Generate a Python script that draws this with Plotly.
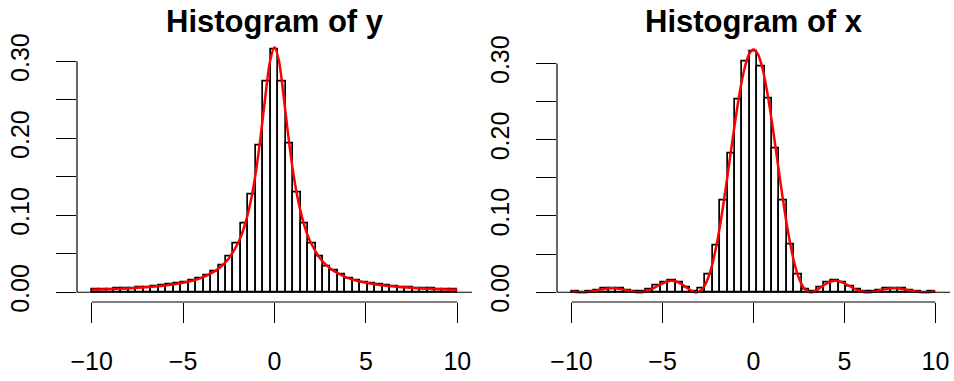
import numpy as np
import plotly.graph_objects as go

# ---- data ----
BREAK_MIN, BREAK_MAX, N_BINS = -10.0, 10.0, 49

dens_y = [0.0034, 0.0036, 0.0040, 0.0042, 0.0047, 0.0051, 0.0058, 0.0066, 0.0072, 0.0084,
          0.0094, 0.0110, 0.0128, 0.0149, 0.0172, 0.0216, 0.0273, 0.0350, 0.0463, 0.0627,
          0.0896, 0.1264, 0.1910, 0.2735, 0.3156, 0.2735, 0.1935, 0.1300, 0.0896, 0.0627,
          0.0463, 0.0340, 0.0280, 0.0225, 0.0178, 0.0151, 0.0126, 0.0108, 0.0096, 0.0082,
          0.0074, 0.0064, 0.0058, 0.0052, 0.0046, 0.0043, 0.0038, 0.0036, 0.0033]

dens_x = [0.0004, 0.0002, 0.0009, 0.0026, 0.0044, 0.0053, 0.0047, 0.0026, 0.0006, 0.0005,
          0.0032, 0.0082, 0.0133, 0.0152, 0.0122, 0.0063, 0.0012, 0.0045, 0.0227, 0.0612,
          0.1206, 0.1822, 0.2521, 0.3023, 0.3163, 0.2966, 0.2538, 0.1879, 0.1197, 0.0620,
          0.0227, 0.0038, 0.0010, 0.0058, 0.0128, 0.0148, 0.0130, 0.0077, 0.0030, 0.0004,
          0.0005, 0.0025, 0.0046, 0.0051, 0.0043, 0.0024, 0.0008, 0.0001, 0.0005]

curve_y_pos = [-10, -9, -8, -7, -6, -5, -4.5, -4, -3.5, -3, -2.5, -2, -1.75, -1.5, -1.25, -1,
               -0.75, -0.5, -0.25, 0, 0.25, 0.5, 0.75, 1, 1.25, 1.5, 1.75, 2, 2.5, 3, 3.5,
               4, 4.5, 5, 6, 7, 8, 9, 10]
curve_y_val = [0.00315, 0.00389, 0.00490, 0.00637, 0.00860, 0.01224, 0.01495, 0.01872,
               0.02411, 0.03183, 0.04390, 0.06366, 0.07795, 0.09794, 0.12420, 0.15915,
               0.20372, 0.25465, 0.29958, 0.31831, 0.29958, 0.25465, 0.20372, 0.15915,
               0.12420, 0.09794, 0.07795, 0.06366, 0.04390, 0.03183, 0.02411, 0.01872,
               0.01495, 0.01224, 0.00860, 0.00637, 0.00490, 0.00389, 0.00315]

curve_x_pos = [-10, -9.75, -9.5, -9.4248, -9.25, -9, -8.75, -8.5, -8.25, -8, -7.75, -7.5,
               -7.25, -7, -6.75, -6.5, -6.2832, -6, -5.75, -5.5, -5.25, -5, -4.75, -4.5,
               -4.25, -4, -3.75, -3.5, -3.25, -3.1416, -3, -2.75, -2.5, -2.25, -2, -1.75,
               -1.5, -1.25, -1, -0.75, -0.5, -0.25, 0,
               0.25, 0.5, 0.75, 1, 1.25, 1.5, 1.75, 2, 2.25, 2.5, 2.75, 3, 3.1416, 3.25,
               3.5, 3.75, 4, 4.25, 4.5, 4.75, 5, 5.25, 5.5, 5.75, 6, 6.2832, 6.5, 6.75, 7,
               7.25, 7.5, 7.75, 8, 8.25, 8.5, 8.75, 9, 9.25, 9.4248, 9.5, 9.75, 10]
curve_x_val = [0.00094, 0.00034, 0.00002, 0.0, 0.00011, 0.00067, 0.00162, 0.00281, 0.00398,
               0.00487, 0.00524, 0.00498, 0.00410, 0.00280, 0.00142, 0.00035, 0.0, 0.00069,
               0.00250, 0.00524, 0.00852, 0.01171, 0.01409, 0.01502, 0.01412, 0.01140,
               0.00740, 0.00320, 0.00035, 0.0, 0.00070, 0.00613, 0.01824, 0.03807, 0.06580,
               0.10064, 0.14076, 0.18347, 0.22539, 0.26292, 0.29265, 0.31173, 0.31831,
               0.31173, 0.29265, 0.26292, 0.22539, 0.18347, 0.14076, 0.10064, 0.06580,
               0.03807, 0.01824, 0.00613, 0.00070, 0.0, 0.00035, 0.00320, 0.00740, 0.01140,
               0.01412, 0.01502, 0.01409, 0.01171, 0.00852, 0.00524, 0.00250, 0.00069, 0.0,
               0.00035, 0.00142, 0.00280, 0.00410, 0.00498, 0.00524, 0.00487, 0.00398,
               0.00281, 0.00162, 0.00067, 0.00011, 0.0, 0.00002, 0.00034, 0.00094]

titles = ["Histogram of y", "Histogram of x"]
x_ticks = [-10, -5, 0, 5, 10]
y_ticks = [0, 0.05, 0.10, 0.15, 0.20, 0.25, 0.30]
y_ticktext = ["0.00", "", "0.10", "", "0.20", "", "0.30"]

# ---- figure ----
breaks = np.linspace(BREAK_MIN, BREAK_MAX, N_BINS + 1)
centers = (breaks[:-1] + breaks[1:]) / 2
bw = breaks[1] - breaks[0]

W, H = 954, 381
FONT = "Liberation Sans, Arial, Helvetica, sans-serif"
fig = go.Figure()

panels = [
    dict(dens=dens_y, cx=curve_y_pos, cy=curve_y_val, xa="x", ya="y",
         dom=[77 / W, 472 / W], yr=[-0.0127, 0.331]),
    dict(dens=dens_x, cx=curve_x_pos, cy=curve_x_val, xa="x2", ya="y2",
         dom=[557 / W, 950 / W], yr=[-0.0128, 0.334]),
]
ydom = [(H - 302) / H, (H - 37.5) / H]

for i, p in enumerate(panels):
    fig.add_trace(go.Bar(x=centers, y=p["dens"], width=bw, xaxis=p["xa"], yaxis=p["ya"],
                         marker=dict(color="rgba(0,0,0,0)",
                                     line=dict(color="black", width=1.7)),
                         showlegend=False))
    fig.add_trace(go.Scatter(x=p["cx"], y=p["cy"], mode="lines", xaxis=p["xa"], yaxis=p["ya"],
                             line=dict(color="red", width=2.5, shape="spline", smoothing=0.8),
                             showlegend=False))
    sfx = "" if i == 0 else "2"
    fig.update_layout(**{
        f"xaxis{sfx}": dict(domain=p["dom"], range=[-10.8, 10.8], anchor=f"y{sfx}",
                            tickvals=x_ticks, ticks="outside", ticklen=20, tickwidth=1.2,
                            tickcolor="black", showline=False, showgrid=False,
                            zeroline=False, ticklabelstandoff=17, automargin=False,
                            tickfont=dict(family=FONT, size=25, color="black")),
        f"yaxis{sfx}": dict(domain=ydom, range=p["yr"], anchor=f"x{sfx}",
                            tickvals=y_ticks, ticktext=y_ticktext, ticks="outside",
                            ticklen=20, tickwidth=1.2, tickcolor="black", tickangle=-90,
                            showline=False, showgrid=False, zeroline=False,
                            ticklabelstandoff=17, automargin=False,
                            tickfont=dict(family=FONT, size=25, color="black")),
    })
    # R-style axis lines spanning the tick range, and zero baseline
    fig.add_shape(type="line", xref=f"x{sfx} domain", yref=f"y{sfx}", x0=0, x1=0,
                  y0=0, y1=0.30, line=dict(color="black", width=1.2))
    fig.add_shape(type="line", xref=f"x{sfx}", yref=f"y{sfx} domain", x0=-10, x1=10,
                  y0=0, y1=0, line=dict(color="black", width=1.2))
    fig.add_shape(type="line", xref=f"x{sfx} domain", yref=f"y{sfx}", x0=0, x1=1,
                  y0=0, y1=0, line=dict(color="black", width=1.2))
    fig.add_annotation(text=f"<b>{titles[i]}</b>", xref="paper", yref="paper",
                       x=(p["dom"][0] + p["dom"][1]) / 2, y=(H - 21) / H,
                       xanchor="center", yanchor="middle", showarrow=False,
                       font=dict(family=FONT, size=31, color="black"))

fig.update_layout(width=W, height=H, margin=dict(l=0, r=0, t=0, b=0, autoexpand=False),
                  paper_bgcolor="white", plot_bgcolor="white", bargap=0,
                  showlegend=False, barmode="overlay")

fig.write_html("out.html")
